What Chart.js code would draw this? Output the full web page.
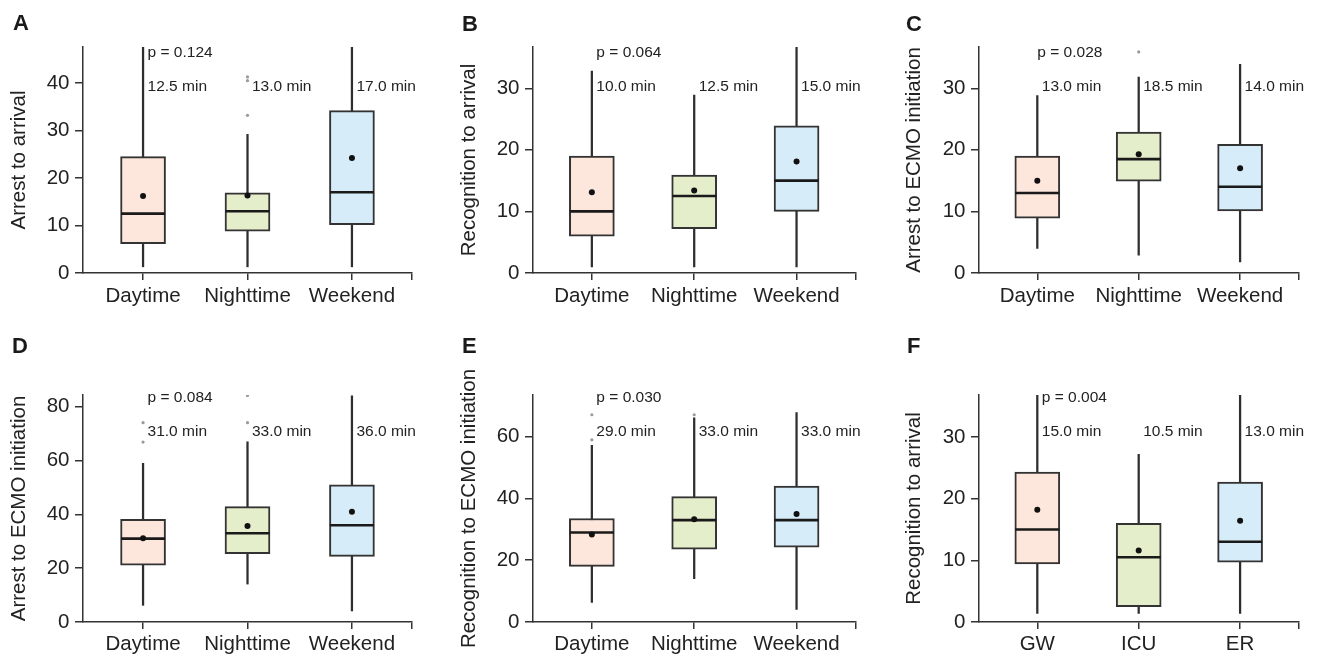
<!DOCTYPE html>
<html>
<head>
<meta charset="utf-8">
<script src="https://cdn.jsdelivr.net/npm/chart.js@4.4.1/dist/chart.umd.min.js"></script>
<style>
  html, body { margin: 0; padding: 0; background: #fff; overflow: hidden; }
  #wrap { position: relative; width: 1323px; height: 657px; background: #fff; }
  canvas { position: absolute; }
</style>
</head>
<body>
<div id="wrap">
  <canvas id="cA" width="440" height="327" style="left:0px;top:0px"></canvas>
  <canvas id="cB" width="440" height="327" style="left:440px;top:0px"></canvas>
  <canvas id="cC" width="443" height="327" style="left:880px;top:0px"></canvas>
  <canvas id="cD" width="440" height="330" style="left:0px;top:327px"></canvas>
  <canvas id="cE" width="440" height="330" style="left:440px;top:327px"></canvas>
  <canvas id="cF" width="443" height="330" style="left:880px;top:327px"></canvas>
</div>
<script>
// ---------------- DATA ----------------
const timeCats = ['Daytime', 'Nighttime', 'Weekend'];
const wardCats = ['GW', 'ICU', 'ER'];

// Panel A – Arrest to arrival
const aMin  = [1.3, 1.3, 1.3];
const aQ1   = [6.2, 8.8, 10.2];
const aMed  = [12.5, 13.0, 17.0];
const aQ3   = [24.5, 16.9, 34.2];
const aMax  = [47.6, 29.2, 47.6];
const aMean = [16.2, 16.3, 24.2];
const aOutX = [1, 1, 1];
const aOutY = [33.2, 40.5, 41.3];
const aTicks = [0, 10, 20, 30, 40];
const aYMax = 47.6;
const aLabels = ['12.5 min', '13.0 min', '17.0 min'];
const aP = 'p = 0.124';
const aTitle = 'Arrest to arrival';

// Panel B – Recognition to arrival
const bMin  = [1.0, 1.0, 1.0];
const bQ1   = [6.0, 7.2, 10.0];
const bMed  = [10.0, 12.5, 15.0];
const bQ3   = [19.0, 15.9, 23.9];
const bMax  = [32.8, 28.9, 36.7];
const bMean = [13.1, 13.4, 18.1];
const bOutX = [];
const bOutY = [];
const bTicks = [0, 10, 20, 30];
const bYMax = 36.7;
const bLabels = ['10.0 min', '12.5 min', '15.0 min'];
const bP = 'p = 0.064';
const bTitle = 'Recognition to arrival';

// Panel C – Arrest to ECMO initiation
const cMin  = [4.0, 2.9, 1.8];
const cQ1   = [8.9, 14.9, 10.1];
const cMed  = [13.0, 18.5, 14.0];
const cQ3   = [19.0, 22.9, 20.9];
const cMax  = [28.8, 31.8, 33.9];
const cMean = [15.0, 19.3, 17.0];
const cOutX = [1];
const cOutY = [35.9];
const cTicks = [0, 10, 20, 30];
const cYMax = 36.7;
const cLabels = ['13.0 min', '18.5 min', '14.0 min'];
const cP = 'p = 0.028';
const cTitle = 'Arrest to ECMO initiation';

// Panel D – Arrest to ECMO initiation
const dMin  = [6.2, 14.1, 4.1];
const dQ1   = [21.1, 25.4, 24.4];
const dMed  = [31.0, 33.0, 36.0];
const dQ3   = [38.2, 42.9, 51.0];
const dMax  = [59.0, 67.0, 84.1];
const dMean = [31.1, 35.7, 41.0];
const dOutX = [0, 0, 1, 1];
const dOutY = [66.9, 74.1, 74.1, 84.2];
const dTicks = [0, 20, 40, 60, 80];
const dYMax = 84.4;
const dLabels = ['31.0 min', '33.0 min', '36.0 min'];
const dP = 'p = 0.084';
const dTitle = 'Arrest to ECMO initiation';

// Panel E – Recognition to ECMO initiation
const eMin  = [6.3, 14.0, 4.1];
const eQ1   = [18.0, 23.6, 24.2];
const eMed  = [29.0, 33.0, 33.0];
const eQ3   = [33.5, 40.6, 44.0];
const eMax  = [57.2, 66.1, 67.8];
const eMean = [28.3, 33.3, 35.0];
const eOutX = [0, 0, 1];
const eOutY = [59.0, 67.1, 67.1];
const eTicks = [0, 20, 40, 60];
const eYMax = 73.5;
const eLabels = ['29.0 min', '33.0 min', '33.0 min'];
const eP = 'p = 0.030';
const eTitle = 'Recognition to ECMO initiation';

// Panel F – Recognition to arrival by location
const fMin  = [1.4, 1.4, 1.4];
const fQ1   = [9.4, 2.5, 9.7];
const fMed  = [15.0, 10.5, 13.0];
const fQ3   = [24.3, 16.0, 22.7];
const fMax  = [36.8, 27.2, 36.8];
const fMean = [18.2, 11.6, 16.4];
const fOutX = [];
const fOutY = [];
const fTicks = [0, 10, 20, 30];
const fYMax = 36.8;
const fLabels = ['15.0 min', '10.5 min', '13.0 min'];
const fP = 'p = 0.004';
const fTitle = 'Recognition to arrival';

// ---------------- STYLE ----------------
const FONT = "'Liberation Sans', Arial, Helvetica, sans-serif";
const boxFill = ['#fde6dc', '#e5eecb', '#d7ecf9'];
const ink = '#333333';
const txt = '#222222';

function makePanel(id, letter, cats, mn, q1, med, q3, mx, mean, outX, outY, ticks, yMax, labels, pText, title, geo) {
  const cv = document.getElementById(id);
  const W = cv.width, H = cv.height;
  const idx = cats.map((c, i) => i);

  const annot = {
    id: 'annot' + id,
    afterDraw(chart) {
      const ctx = chart.ctx;
      const xs = chart.scales.x;
      const top = chart.chartArea.top;
      ctx.save();
      ctx.fillStyle = txt;
      ctx.textAlign = 'left';
      ctx.textBaseline = 'middle';
      ctx.font = '15.5px ' + FONT;
      ctx.fillText(pText, xs.getPixelForValue(0) + geo.pdx, top + geo.pdy);
      labels.forEach((l, i) => ctx.fillText(l, xs.getPixelForValue(i) + 4.5, top + geo.ldy));
      ctx.font = 'bold 22px ' + FONT;
      ctx.textBaseline = 'alphabetic';
      ctx.fillStyle = '#1a1a1a';
      ctx.fillText(letter, geo.letterX, geo.letterY);
      ctx.restore();
    }
  };

  new Chart(cv, {
    type: 'bar',
    data: {
      datasets: [
        {
          type: 'bar', label: 'whisker', order: 5, grouped: false,
          data: idx.map(i => ({ x: i, y: [mn[i], mx[i]] })),
          backgroundColor: '#2e2e2e', borderWidth: 0, barThickness: 1.6
        },
        {
          type: 'bar', label: 'box', order: 4, grouped: false,
          data: idx.map(i => ({ x: i, y: [q1[i], q3[i]] })),
          backgroundColor: boxFill, borderColor: ink, borderWidth: 2,
          borderSkipped: false, barThickness: 45
        },
        {
          type: 'scatter', label: 'median', order: 3,
          data: idx.map(i => ({ x: i, y: med[i] })),
          pointStyle: 'line', pointRadius: 22, pointHoverRadius: 22,
          pointBorderWidth: 2.6, borderWidth: 2.6,
          pointBorderColor: '#1a1a1a', borderColor: '#1a1a1a'
        },
        {
          type: 'scatter', label: 'mean', order: 2,
          data: idx.map(i => ({ x: i, y: mean[i] })),
          pointStyle: 'circle', pointRadius: 3, pointBorderWidth: 0,
          pointBackgroundColor: '#111', backgroundColor: '#111'
        },
        {
          type: 'scatter', label: 'outlier', order: 1,
          data: outX.map((x, i) => ({ x: x, y: outY[i] })),
          pointStyle: 'circle', pointRadius: 1.6, pointBorderWidth: 0,
          pointBackgroundColor: '#9a9a9a', backgroundColor: '#9a9a9a'
        }
      ]
    },
    options: {
      responsive: false,
      devicePixelRatio: 1,
      animation: false,
      events: [],
      layout: { padding: { left: 0, top: geo.top, right: W - geo.right, bottom: 0 } },
      plugins: { legend: { display: false }, tooltip: { enabled: false } },
      scales: {
        x: {
          type: 'linear', min: -0.575, max: 2.575, offset: false,
          afterBuildTicks: s => { s.ticks = [0, 1, 2, s.max].map(v => ({ value: v })); },
          afterFit: s => { s.height = H - geo.bottom; },
          ticks: {
            autoSkip: false, maxRotation: 0, minRotation: 0, padding: geo.xpad,
            font: { family: FONT, size: 20.5 }, color: txt,
            callback: v => (Number.isInteger(v) && cats[v] !== undefined) ? cats[v] : ''
          },
          grid: { display: true, offset: false, drawOnChartArea: false, drawTicks: true, tickLength: 7, color: ink, lineWidth: 1.5 },
          border: { display: true, color: ink, width: 1.5 }
        },
        y: {
          type: 'linear', min: 0, max: yMax,
          afterBuildTicks: s => { s.ticks = ticks.map(v => ({ value: v })); },
          afterFit: s => { s.width = geo.left; },
          ticks: {
            padding: 5.5, font: { family: FONT, size: 20.5 }, color: txt,
            callback: v => String(v)
          },
          grid: { display: true, offset: false, drawOnChartArea: false, drawTicks: true, tickLength: 8, color: ink, lineWidth: 1.5 },
          border: { display: true, color: ink, width: 1.5 },
          title: {
            display: true, text: title, color: txt,
            font: { family: FONT, size: 20.5 },
            padding: { top: geo.tpad, bottom: 0 }
          }
        }
      }
    },
    plugins: [annot]
  });
}

makePanel('cA', 'A', timeCats, aMin, aQ1, aMed, aQ3, aMax, aMean, aOutX, aOutY, aTicks, aYMax, aLabels, aP, aTitle,
  { left: 83, right: 412, top: 47, bottom: 273, tpad: 6.7, xpad: 4, pdx: 4.5, pdy: 5.7, ldy: 39.7, letterX: 13, letterY: 30 });
makePanel('cB', 'B', timeCats, bMin, bQ1, bMed, bQ3, bMax, bMean, bOutX, bOutY, bTicks, bYMax, bLabels, bP, bTitle,
  { left: 93, right: 422, top: 47, bottom: 273, tpad: 16.9, xpad: 4, pdx: 4.5, pdy: 5.7, ldy: 39.7, letterX: 22, letterY: 31 });
makePanel('cC', 'C', timeCats, cMin, cQ1, cMed, cQ3, cMax, cMean, cOutX, cOutY, cTicks, cYMax, cLabels, cP, cTitle,
  { left: 99, right: 427, top: 47, bottom: 273, tpad: 22.4, xpad: 4, pdx: 0, pdy: 5.7, ldy: 39.7, letterX: 26, letterY: 31 });
makePanel('cD', 'D', timeCats, dMin, dQ1, dMed, dQ3, dMax, dMean, dOutX, dOutY, dTicks, dYMax, dLabels, dP, dTitle,
  { left: 83, right: 412, top: 68, bottom: 295, tpad: 6.7, xpad: 3.5, pdx: 4.5, pdy: 3, ldy: 36.5, letterX: 12, letterY: 26 });
makePanel('cE', 'E', timeCats, eMin, eQ1, eMed, eQ3, eMax, eMean, eOutX, eOutY, eTicks, eYMax, eLabels, eP, eTitle,
  { left: 93, right: 422, top: 68, bottom: 295, tpad: 16.9, xpad: 3.5, pdx: 4.5, pdy: 3, ldy: 36.5, letterX: 22, letterY: 26 });
makePanel('cF', 'F', wardCats, fMin, fQ1, fMed, fQ3, fMax, fMean, fOutX, fOutY, fTicks, fYMax, fLabels, fP, fTitle,
  { left: 99, right: 427, top: 68, bottom: 295, tpad: 22.2, xpad: 3.5, pdx: 4.5, pdy: 3, ldy: 36.5, letterX: 27, letterY: 26 });
</script>
</body>
</html>
